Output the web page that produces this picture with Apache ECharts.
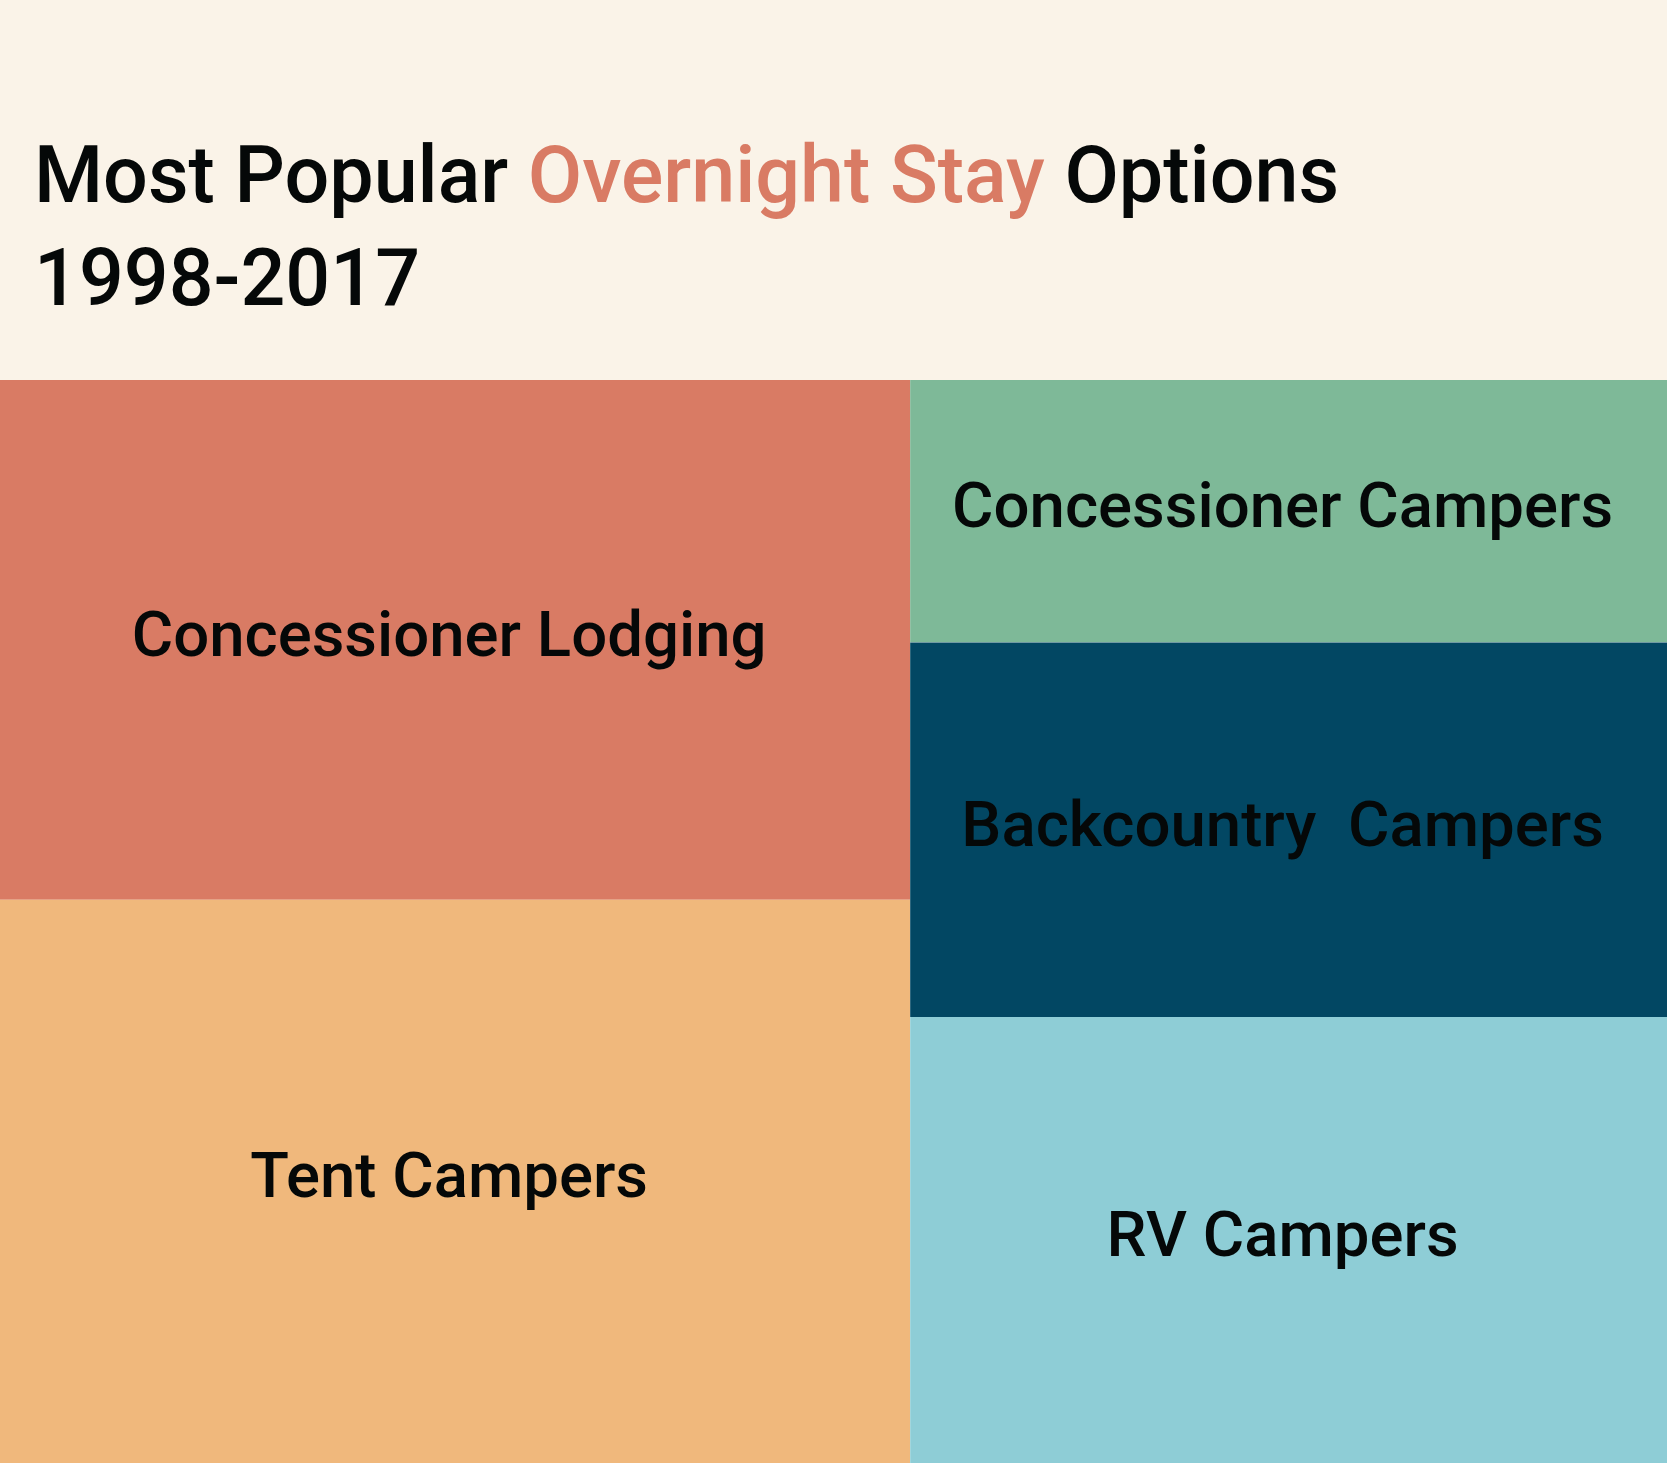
<!DOCTYPE html>
<html>
<head>
<meta charset="utf-8">
<script src="https://cdn.jsdelivr.net/npm/echarts@6/dist/echarts.min.js"></script>
<style>
  html, body { margin: 0; padding: 0; background: #faf3e8; }
  #grafico { width: 1667px; height: 1463px; }
</style>
</head>
<body>
<div id="grafico"></div>
<script>
// Dados (share of overnight stays, read from the areas)
const categorias = ['Concessioner Lodging', 'Tent Campers', 'Concessioner Campers', 'Backcountry  Campers', 'RV Campers'];
const valores = [26.2, 28.4, 11.0, 15.7, 18.7];
const cores = ['#d97b64', '#f0b87c', '#7eb998', '#024763', '#8ecdd6'];

function folha(i) {
    return { name: categorias[i], value: valores[i], itemStyle: { color: cores[i] } };
}

// grouping so the squarify layout gives two columns, stacked rows on the right
var arvore = [
    { name: 'left', children: [folha(0), folha(1)] },
    { name: 'right', children: [folha(2), { name: 'bottom', children: [folha(3), folha(4)] }] }
];

var chartDom = document.getElementById('grafico');
var myChart = echarts.init(chartDom);
var option = {
    backgroundColor: '#faf3e8',
    animation: false,
    title: {
        text: '{a|Most Popular }{b|Overnight Stay}{a| Options}\n{a|1998-2017}',
        left: 29,
        top: 126,
        textStyle: {
            rich: {
                a: { fontFamily: 'Roboto', fontWeight: 500, fontSize: 79, color: '#050808', lineHeight: 103 },
                b: { fontFamily: 'Roboto', fontWeight: 500, fontSize: 79, color: '#d97b64', lineHeight: 103 }
            }
        }
    },
    series: [
        {
            type: 'treemap',
            left: 0,
            right: 0,
            top: 380,
            bottom: 0,
            roam: false,
            nodeClick: false,
            sort: false,
            squareRatio: 1,
            breadcrumb: { show: false },
            itemStyle: { borderWidth: 0, gapWidth: 0 },
            label: {
                show: true,
                position: 'inside',
                fontFamily: 'Roboto',
                fontWeight: 500,
                fontSize: 63.5,
                color: '#050808',
                padding: [0, 12, 0, 0],
                formatter: '{b}'
            },
            upperLabel: { show: false },
            emphasis: { disabled: true },
            data: arvore
        }
    ]
};

option && myChart.setOption(option);
</script>
</body>
</html>
